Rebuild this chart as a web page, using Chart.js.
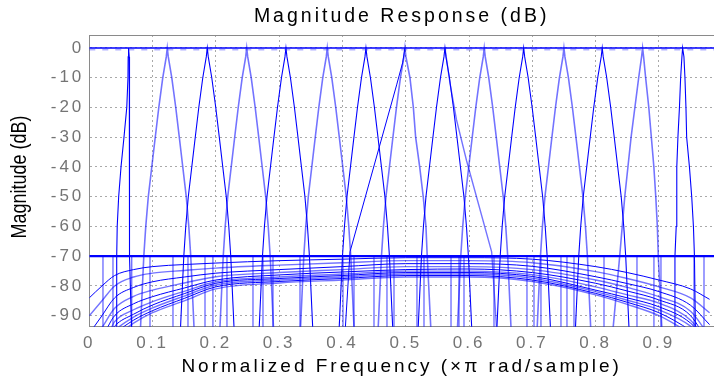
<!DOCTYPE html>
<html>
<head>
<meta charset="utf-8">
<script src="https://cdn.jsdelivr.net/npm/chart.js@4.4.0/dist/chart.umd.min.js"></script>
<style>
  html, body { margin: 0; padding: 0; background: #fff; }
  #wrap { width: 714px; height: 383px; }
</style>
</head>
<body>
<div id="wrap"><canvas id="chart" width="714" height="383"></canvas></div>
<script>
/**==========================
    values
==========================*/

// dB level of every corner of one band (left foot ... peak ... right foot)
const bandDb = [-96, -70, -60, -50, -40, -30, -20, -10, -3, 0, -3, -10, -20, -30, -40, -50, -60, -70, -96];

// frequency of each corner, one row per bandpass filter
const bandFreqs = [
    [.0422, .0433, .0441, .0464, .0501, .0548, .0592, .0611, .0614, .0620, .0632, .0632, .0633, .0634, .0635, .0636, .0637, .0640, .0670],
    [.0805, .0861, .0892, .0932, .0987, .1042, .1098, .1161, .1216, .1232, .1248, .1303, .1366, .1422, .1477, .1532, .1572, .1603, .1659],
    [.1437, .1493, .1524, .1564, .1619, .1674, .1730, .1793, .1848, .1864, .1880, .1935, .1998, .2054, .2109, .2164, .2204, .2235, .2291],
    [.2060, .2116, .2147, .2187, .2242, .2297, .2353, .2416, .2471, .2487, .2503, .2558, .2621, .2677, .2732, .2787, .2827, .2858, .2914],
    [.2680, .2736, .2767, .2807, .2862, .2917, .2973, .3036, .3091, .3107, .3123, .3178, .3241, .3297, .3352, .3407, .3447, .3478, .3534],
    [.3333, .3389, .3420, .3460, .3515, .3570, .3626, .3689, .3744, .3760, .3776, .3831, .3894, .3950, .4005, .4060, .4100, .4131, .4187],
    [.3944, .4000, .4031, .4071, .4126, .4181, .4237, .4300, .4355, .4371, .4387, .4442, .4505, .4561, .4616, .4671, .4711, .4742, .4798],
    [.4560, .4616, .4647, .4687, .4742, .4797, .4853, .4916, .4971, .4987, .5003, .5066, .5120, .5156, .5220, .5276, .5319, .5339, .5400],
    [.5192, .5248, .5279, .5319, .5374, .5429, .5485, .5548, .5603, .5619, .5635, .5690, .5753, .5809, .5864, .5919, .5959, .5990, .6046],
    [.5813, .5869, .5900, .5940, .5995, .6050, .6106, .6169, .6224, .6240, .6256, .6311, .6374, .6430, .6485, .6540, .6580, .6611, .6667],
    [.6436, .6492, .6523, .6563, .6618, .6673, .6729, .6792, .6847, .6863, .6879, .6934, .6997, .7053, .7108, .7163, .7203, .7234, .7290],
    [.7072, .7128, .7159, .7199, .7254, .7309, .7365, .7428, .7483, .7499, .7515, .7570, .7633, .7689, .7744, .7799, .7839, .7870, .7926],
    [.7677, .7733, .7764, .7804, .7859, .7914, .7970, .8033, .8088, .8104, .8120, .8175, .8238, .8294, .8349, .8404, .8444, .8475, .8531],
    [.8268, .8380, .8420, .8460, .8510, .8560, .8620, .8680, .8726, .8742, .8758, .8790, .8840, .8880, .8920, .8950, .8975, .8990, .9050],
    [.9245, .9253, .9273, .9280, .9284, .9300, .9324, .9343, .9363, .9374, .9395, .9411, .9427, .9438, .9482, .9518, .9545, .9561, .9577]
];

// two wider skirts that run further down than the rest
const wideLeftFreq = [.4987, .4950, .4856, .4119, .4040];
const wideLeftDb = [0, -5, -12.4, -68.5, -96];
const wideRightFreq = [.5619, .5700, .5800, .5962, .6357, .6440];
const wideRightDb = [0, -12, -24, -38, -68.5, -96];

// flat pass and stop levels
const passDb = 0;
const stopDb = -70;

// stopband curves under -70 dB
const archFreq = [0, 0.02, 0.04, 0.07, 0.1, 0.15, 0.2, 0.3, 0.4, 0.5, 0.6, 0.7, 0.8, 0.85, 0.9, 0.95, 0.98];
const archLevels = [
    [-84, -80, -76.5, -74.5, -73.5, -72.8, -72.3, -71.5, -71, -70.5, -70.5, -71, -73.5, -75.5, -78, -81, -84.5],
    [-90, -85, -80, -77, -75.7, -74.8, -74, -73, -72.2, -71.5, -71.5, -72.2, -75.2, -77.5, -80.3, -84, -89],
    [-96, -90, -84, -80.5, -78.6, -77, -75.7, -74.5, -73.5, -72.5, -72.5, -73.4, -76.9, -79.2, -81.9, -86.5, -93],
    [-100, -94, -87.5, -83.5, -81.4, -79, -76.9, -75.5, -74.5, -73.5, -73.5, -74.5, -78, -80.5, -83.6, -88.5, -97],
    [-100, -97, -90, -86, -83.6, -80.7, -78, -76.3, -75.3, -74.5, -74.3, -75.5, -79.1, -81.7, -84.7, -90, -100],
    [-100, -100, -92, -88, -85.3, -81.8, -78.6, -77, -76, -75, -75, -76.2, -80.3, -83, -85.8, -91.5, -100],
    [-100, -100, -93.5, -89.5, -86.4, -82.6, -79.1, -77.5, -76.5, -75.5, -75.5, -76.8, -81.4, -84, -87, -92.5, -100],
    [-100, -100, -95, -90.5, -87.4, -83.4, -79.7, -78, -77, -76, -76, -77.4, -81.9, -84.8, -88, -93.5, -100],
    [-100, -100, -96, -91.5, -88.3, -84.2, -80.3, -78.5, -77.5, -76.5, -76.5, -78, -82.5, -85.5, -89, -95, -100],
    [-100, -100, -97, -92.5, -89, -85, -81, -79, -78, -77, -77, -78.5, -83, -86.2, -90, -96, -100]
];

// frequencies of the nulls that drop from -70 dB to the floor
const nullFreqs = [.0216, .0374, .0670, .0959, .1322, .1559, .1828, .1953, .2175, .2586, .2744, .2902, .3329, .4008,
    .4182, .4498, .4703, .4814, .5177, .5288, .5715, .5841, .5920, .6394, .6915, .7026, .7136, .7452, .7547, .7658,
    .8132, .8653, .8921, .9032, .9554, .9712];

const xTicks = [0, 0.1, 0.2, 0.3, 0.4, 0.5, 0.6, 0.7, 0.8, 0.9];
const yTicks = [0, -10, -20, -30, -40, -50, -60, -70, -80, -90];

/**==========================
    chart
==========================*/

const blue = '#0000ff';
const paleBlue = 'rgba(0, 0, 255, 0.55)';
const font_family = '"Liberation Sans", Arial, sans-serif';

function line(points, color, width, extra) {
    return Object.assign({
        data: points,
        showLine: true,
        borderColor: color,
        borderWidth: width,
        pointRadius: 0,
        fill: false,
        tension: 0
    }, extra || {});
}

let datasets = [];

// stopband curves first, so the bands sit on top
archLevels.forEach((row, i) => {
    datasets.push(line(row.map((v, j) => ({x: archFreq[j], y: v})), i % 2 ? paleBlue : blue, i % 2 ? 1.4 : 1,
        {cubicInterpolationMode: 'monotone'}));
});

let null_points = [];
nullFreqs.forEach(f => {
    null_points.push({x: f, y: stopDb}, {x: f, y: -100}, {x: f, y: null});
});
datasets.push(line(null_points, paleBlue, 1.4, {spanGaps: false}));

bandFreqs.forEach((row, i) => {
    datasets.push(line(row.map((f, j) => ({x: f, y: bandDb[j]})), i % 2 ? paleBlue : blue, i % 2 ? 1.6 : 1.1));
});

datasets.push(line(wideLeftFreq.map((f, j) => ({x: f, y: wideLeftDb[j]})), blue, 1));
datasets.push(line(wideRightFreq.map((f, j) => ({x: f, y: wideRightDb[j]})), paleBlue, 1.4));

// flat lines at 0 dB (with its small scallops) and at -70 dB
datasets.push(line([{x: 0, y: passDb - 0.55}, {x: 1, y: passDb - 0.55}], 'rgba(0, 0, 255, 0.3)', 1.6, {borderDash: [6, 7]}));
datasets.push(line([{x: 0, y: passDb}, {x: 1, y: passDb}], blue, 1.4));
datasets.push(line([{x: 0, y: stopDb}, {x: 1, y: stopDb}], blue, 2.2));

// keep only the round tick values
function keep_ticks(values) {
    return function (axis) {
        axis.ticks = values.map(v => ({value: v}));
    };
}

const textStyle = {
    id: 'textStyle',
    beforeDraw(chart) {
        chart.ctx.letterSpacing = '3px';
    },
    afterDraw(chart) {
        // vertical axis name, drawn a bit wide like the original
        let ctx = chart.ctx;
        ctx.save();
        ctx.letterSpacing = '0px';
        ctx.translate(20, 177);
        ctx.scale(1.25, 1);
        ctx.rotate(-Math.PI / 2);
        ctx.font = '18px ' + font_family;
        ctx.fillStyle = '#000';
        ctx.textAlign = 'center';
        ctx.textBaseline = 'middle';
        ctx.fillText('Magnitude (dB)', 0, 0);
        ctx.restore();
    }
};

const tick_font = {family: font_family, size: 17};

new Chart(document.getElementById('chart'), {
    type: 'scatter',
    data: {datasets: datasets},
    plugins: [textStyle],
    options: {
        responsive: false,
        devicePixelRatio: 1,
        animation: false,
        events: [],
        layout: {padding: 0},
        plugins: {
            legend: {display: false},
            tooltip: {enabled: false},
            title: {
                display: true,
                text: 'Magnitude Response (dB)',
                color: '#000',
                fullSize: false,
                font: {family: font_family, size: 19.5, weight: 'normal'},
                padding: {top: 4.6, bottom: 7}
            }
        },
        scales: {
            x: {
                type: 'linear',
                position: 'bottom',
                min: 0,
                max: 0.987,
                afterBuildTicks: keep_ticks(xTicks),
                afterFit: s => { s.height = 56.3; },
                ticks: {
                    color: '#747474',
                    font: tick_font,
                    padding: 6,
                    maxRotation: 0,
                    autoSkip: false,
                    callback: v => String(Math.round(v * 10) / 10)
                },
                grid: {color: '#a9a9a9', lineWidth: 1, drawTicks: false},
                border: {display: true, color: '#8a8a8a', width: 1, dash: [2, 3]},
                title: {
                    display: true,
                    text: 'Normalized Frequency (×π rad/sample)',
                    color: '#000',
                    font: {family: font_family, size: 19},
                    padding: {top: 0, bottom: 4.6}
                }
            },
            xTop: {
                type: 'linear',
                position: 'top',
                min: 0,
                max: 0.987,
                ticks: {display: false},
                grid: {display: false, drawTicks: false},
                border: {display: true, color: '#8a8a8a', width: 1},
                afterFit: s => { s.height = 0; }
            },
            y: {
                type: 'linear',
                min: -93.7,
                max: 4.37,
                afterBuildTicks: keep_ticks(yTicks),
                afterFit: s => { s.width = 89.3; },
                ticks: {
                    color: '#747474',
                    font: tick_font,
                    padding: 5,
                    autoSkip: false,
                    callback: v => String(v)
                },
                grid: {color: '#a9a9a9', lineWidth: 1, drawTicks: false},
                border: {display: true, color: '#8a8a8a', width: 1, dash: [2, 3]}
            }
        }
    }
});
</script>
</body>
</html>
